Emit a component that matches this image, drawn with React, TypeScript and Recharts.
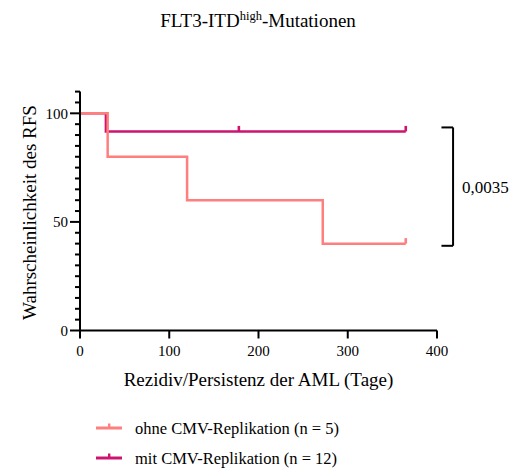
import React from "react";
import { LineChart, Line, XAxis, YAxis, ReferenceLine } from "recharts";

// ---- data ----
const ohneTimes = [0, 31, 120, 272, 365];
const ohneSurv = [100, 80, 60, 40, 40];
const ohneCensored = [false, false, false, false, true];

const mitTimes = [0, 29, 178, 365];
const mitSurv = [100, 91.67, 91.67, 91.67];
const mitCensored = [false, false, true, true];

const seriesNames = ["ohne CMV-Replikation (n = 5)", "mit CMV-Replikation (n = 12)"];
const seriesColors = ["#FF7F7F", "#CC1470"];

const xTicks = [0, 100, 200, 300, 400];
const yTicks = [0, 5, 10, 15, 20, 25, 30, 35, 40, 45, 50, 55, 60, 65, 70, 75, 80, 85, 90, 95, 100, 105, 110];
const yLabeled = [0, 50, 100];

const bracketX = [405, 418];
const bracketY = [93.5, 39];
const pValue = "0,0035";

const titleMain = "FLT3-ITD";
const titleSup = "high";
const titleEnd = "-Mutationen";
const xTitle = "Rezidiv/Persistenz der AML (Tage)";
const yTitle = "Wahrscheinlichkeit des RFS";

const FONT = "'Liberation Serif', 'Times New Roman', serif";
const txt = (size: number) => ({ fontFamily: FONT, fontSize: size, fill: "#000" });

const ohneData = ohneTimes.map((t, i) => ({ t, s: ohneSurv[i], c: ohneCensored[i] }));
const mitData = mitTimes.map((t, i) => ({ t, s: mitSurv[i], c: mitCensored[i] }));

const makeDot = (color: string) => (p: any) => {
  const { cx, cy, payload, index } = p;
  if (!payload || !payload.c) return <g key={`d${index}`} />;
  return <rect key={`d${index}`} x={cx - 1.3} y={cy - 5.5} width={2.6} height={5.5} fill={color} />;
};

const YTick = (props: any) => {
  const { x, y, payload } = props;
  const major = yLabeled.includes(payload.value);
  const len = major ? 10 : 5;
  return (
    <g>
      <line x1={x - len} x2={x} y1={y} y2={y} stroke="#000" strokeWidth={2} />
      {major && (
        <text x={x - len - 2} y={y} dy="0.35em" textAnchor="end" style={txt(15)}>
          {payload.value}
        </text>
      )}
    </g>
  );
};

const XTick = (props: any) => {
  const { x, y, payload } = props;
  return (
    <text x={x} y={y} dy="0.71em" textAnchor="middle" style={txt(15)}>
      {payload.value}
    </text>
  );
};

const XTitle = (props: any) => {
  const vb = props.viewBox;
  return (
    <text x={vb.x + vb.width / 2} y={vb.y + 55} textAnchor="middle" style={txt(19)}>
      {xTitle}
    </text>
  );
};

const YTitle = (props: any) => {
  const vb = props.viewBox;
  const cx = 36.5;
  const cy = vb.y + vb.height / 2 + 1.5;
  return (
    <text x={cx} y={cy} transform={`rotate(-90 ${cx} ${cy})`} textAnchor="middle" style={txt(19)}>
      {yTitle}
    </text>
  );
};

const PLabel = (props: any) => {
  const vb = props.viewBox || {};
  const x = (vb.x ?? 0) + (vb.width ?? 0) + 9;
  const y = (vb.y ?? 0) + (vb.height ?? 0) / 2 + 6;
  return (
    <text x={x} y={y} style={txt(17)}>
      {pValue}
    </text>
  );
};

export default function App() {
  return (
    <div style={{ position: "absolute", left: 0, top: 0, width: 516, height: 471, background: "#fff" }}>
      <svg width={516} height={60} style={{ position: "absolute", left: 0, top: 0 }}>
        <text x={258} y={27} textAnchor="middle" style={txt(19)}>
          {titleMain}
          <tspan fontSize={12.5} dy={-7}>{titleSup}</tspan>
          <tspan dy={7}>{titleEnd}</tspan>
        </text>
      </svg>
      <div style={{ position: "absolute", left: 0, top: 0 }}>
        <LineChart width={516} height={471} margin={{ top: 91.6, right: 79, left: 20, bottom: 110.5 }}>
          <XAxis
            dataKey="t"
            type="number"
            domain={[0, 400]}
            ticks={xTicks}
            allowDataOverflow
            height={30}
            tickSize={8}
            tickMargin={7}
            axisLine={{ stroke: "#000", strokeWidth: 2 }}
            tickLine={{ stroke: "#000", strokeWidth: 2 }}
            tick={<XTick />}
            label={<XTitle />}
          />
          <YAxis
            type="number"
            domain={[0, 110]}
            ticks={yTicks}
            interval={0}
            width={60}
            tickSize={0}
            tickMargin={0}
            tickLine={false}
            axisLine={{ stroke: "#000", strokeWidth: 2 }}
            tick={<YTick />}
            label={<YTitle />}
          />
          <Line
            data={mitData}
            dataKey="s"
            type="stepAfter"
            stroke={seriesColors[1]}
            strokeWidth={2.5}
            dot={makeDot(seriesColors[1])}
            activeDot={false}
            isAnimationActive={false}
          />
          <Line
            data={ohneData}
            dataKey="s"
            type="stepAfter"
            stroke={seriesColors[0]}
            strokeWidth={2.5}
            dot={makeDot(seriesColors[0])}
            activeDot={false}
            isAnimationActive={false}
          />
          <ReferenceLine
            ifOverflow="visible"
            segment={[{ x: bracketX[0], y: bracketY[0] }, { x: bracketX[1], y: bracketY[0] }]}
            stroke="#000"
            strokeWidth={2}
          />
          <ReferenceLine
            ifOverflow="visible"
            segment={[{ x: bracketX[1], y: bracketY[0] }, { x: bracketX[1], y: bracketY[1] }]}
            stroke="#000"
            strokeWidth={2}
            label={<PLabel />}
          />
          <ReferenceLine
            ifOverflow="visible"
            segment={[{ x: bracketX[0], y: bracketY[1] }, { x: bracketX[1], y: bracketY[1] }]}
            stroke="#000"
            strokeWidth={2}
          />
        </LineChart>
      </div>
      <svg width={516} height={70} style={{ position: "absolute", left: 0, top: 401 }}>
        {seriesNames.map((name, i) => {
          const y = 27 + i * 30;
          return (
            <g key={name}>
              <line x1={96} x2={122} y1={y} y2={y} stroke={seriesColors[i]} strokeWidth={3} />
              <rect x={108} y={y - 4.5} width={2.4} height={4.5} fill={seriesColors[i]} />
              <text x={135} y={y + 5.5} style={txt(16.5)}>
                {name}
              </text>
            </g>
          );
        })}
      </svg>
    </div>
  );
}
